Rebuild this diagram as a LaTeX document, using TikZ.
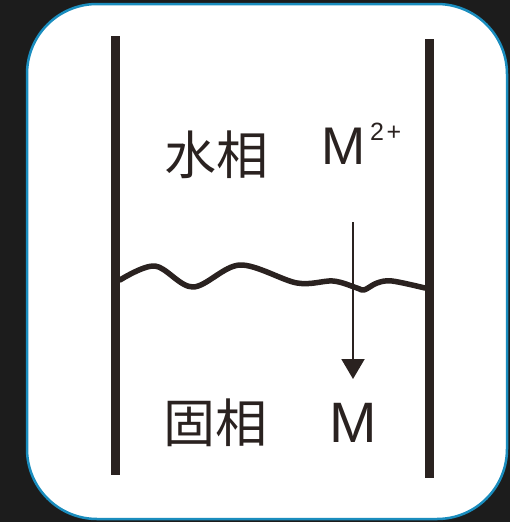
\documentclass[tikz,border=0pt]{standalone}
\usepackage{fontspec}
\setmainfont{Liberation Sans}
\newfontfamily\cjk{Noto Sans CJK SC}
\usetikzlibrary{arrows.meta}
\definecolor{bg}{HTML}{1C1C1C}
\definecolor{frame}{HTML}{1A8DBE}
\definecolor{ink}{HTML}{2A2220}
\begin{document}
\begin{tikzpicture}[x=1pt,y=-1pt,
  wall/.style={ink,line width=9pt},
  wave/.style={ink,line width=5.5pt,line cap=round,line join=round},
  cjklabel/.style={ink,inner sep=0pt,font=\cjk\fontsize{52}{52}\selectfont},
  latin/.style={ink,inner sep=0pt,font=\fontsize{57}{57}\selectfont},
  latinsm/.style={ink,inner sep=0pt,font=\fontsize{53}{53}\selectfont},
  supscr/.style={ink,inner sep=0pt,font=\fontsize{25}{25}\selectfont},
  flow/.style={ink,line width=2pt,-{Triangle[width=23pt,length=20pt]}}]
\fill[bg] (0,0) rectangle (510,522);
\useasboundingbox (0,0) rectangle (510,522);
\draw[frame,fill=white,line width=2.5pt,rounded corners=70pt] (27,4) rectangle (507,519);
% walls
\coordinate (lt) at (115.5,36);
\coordinate (lb) at (115.5,475);
\coordinate (rt) at (429.5,39);
\coordinate (rb) at (429.5,478);
\draw[wall] (lt) -- (lb);
\draw[wall] (rt) -- (rb);
% interface
\draw[wave] plot[smooth,tension=0.55] coordinates {(120,280) (155,266) (193,287) (240,265) (297,283) (333,281) (357,288) (364,290) (377,283) (392,281) (425,288)};
% labels
\node[cjklabel] (water) at (216,155) {水相};
\node[cjklabel] (solid) at (215,423) {固相};
\node[latinsm] (mion) at (344,146) {M};
\node[supscr,anchor=base west] (charge) at (370,140) {2\kern2.5pt+};
\node[latin] (metal) at (353.5,422.5) {M};
% arrow
\coordinate (as) at (353,222);
\coordinate (ae) at (353,379);
\draw[flow] (as) -- (ae);
\end{tikzpicture}
\end{document}
